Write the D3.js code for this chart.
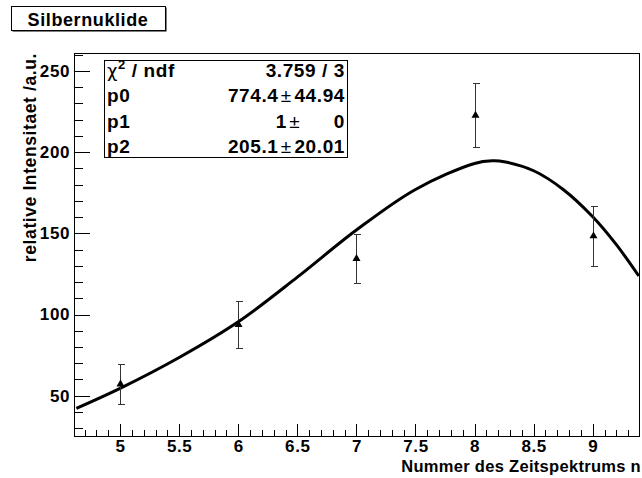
<!DOCTYPE html>
<html>
<head>
<meta charset="utf-8">
<script src="https://cdn.jsdelivr.net/npm/d3@7"></script>
<style>
  body { margin: 0; background: #fff; }
  svg { display: block; }
  text { font-family: "Liberation Sans", Arial, sans-serif; font-weight: bold; fill: #000; }
  .axis path.domain { display: none; }
  .axis line { stroke: #000; shape-rendering: crispEdges; }
  .axis text { font-size: 17px; letter-spacing: 0.6px; }
</style>
</head>
<body>
<svg id="chart"></svg>
<script>
// measured points (triangles with error bars)
var nValues = [5, 6, 7, 8, 9];
var intensity = [57.1, 93.8, 134.4, 222.6, 148.3];
var errors = [12.2, 14.6, 15.3, 19.7, 18.5];

// fit curve
var fitX = [4.63, 5, 5.5, 6, 6.5, 7, 7.5, 8, 8.15, 8.25, 8.5, 8.75, 9, 9.2, 9.39];
var fitY = [42.2, 54.5, 73.5, 95.5, 123, 152, 177, 193, 194.6, 194.1, 188.5, 177, 160.2, 143, 123.7];

var xMajor = [5, 5.5, 6, 6.5, 7, 7.5, 8, 8.5, 9];
var yMajor = [50, 100, 150, 200, 250];

var statNames = ["p0", "p1", "p2"];
var statVals = ["774.4", "1", "205.1"];
var statErrs = ["44.94", "0", "20.01"];
var chiText = "3.759 / 3";

var width = 642, height = 478;
var frame = {left: 74, top: 53, right: 640, bottom: 436};

var svg = d3.select("#chart").attr("width", width).attr("height", height);

var x = d3.scaleLinear().domain([4.61, 9.4]).range([frame.left, frame.right]);
var y = d3.scaleLinear().domain([25.2, 261]).range([frame.bottom, frame.top]);

// minor ticks
var xMinor = d3.range(47, 94).map(function(d) { return d / 10; })
    .filter(function(d) { return Math.abs(d * 2 - Math.round(d * 2)) > 1e-6; });
var yMinor = d3.range(30, 261, 10).filter(function(d) { return d % 50 != 0; });

// title box
svg.append("rect")
    .attr("x", 12.5).attr("y", 7.5).attr("width", 154).attr("height", 24)
    .attr("fill", "#000");
svg.append("rect")
    .attr("x", 11.5).attr("y", 6.5).attr("width", 154).attr("height", 24)
    .attr("fill", "#fff").attr("stroke", "#000");
svg.append("text")
    .attr("x", 88).attr("y", 26)
    .attr("text-anchor", "middle")
    .style("font-size", "18px").style("letter-spacing", "0.6px")
    .text("Silbernuklide");

// axes
svg.append("g").attr("class", "axis")
    .attr("transform", "translate(0," + frame.bottom + ")")
    .call(d3.axisBottom(x).tickValues(xMinor).tickSize(-6).tickFormat(""));
svg.append("g").attr("class", "axis")
    .attr("transform", "translate(0," + frame.bottom + ")")
    .call(d3.axisBottom(x).tickValues(xMajor).tickSize(-12).tickPadding(4)
        .tickFormat(d3.format("")));

svg.append("g").attr("class", "axis")
    .attr("transform", "translate(" + frame.left + ",0)")
    .call(d3.axisLeft(y).tickValues(yMinor).tickSize(-9).tickFormat(""));
svg.append("g").attr("class", "axis")
    .attr("transform", "translate(" + frame.left + ",0)")
    .call(d3.axisLeft(y).tickValues(yMajor).tickSize(-16).tickPadding(4));

// frame
svg.append("rect")
    .attr("x", frame.left + 0.5).attr("y", frame.top + 0.5)
    .attr("width", frame.right - frame.left - 1).attr("height", frame.bottom - frame.top)
    .attr("fill", "none").attr("stroke", "#000")
    .style("shape-rendering", "crispEdges");

// axis titles
svg.append("text")
    .attr("x", 641).attr("y", 471.5)
    .attr("text-anchor", "end")
    .style("font-size", "16.5px").style("letter-spacing", "0.3px")
    .text("Nummer des Zeitspektrums n");

svg.append("text")
    .attr("transform", "translate(36,53) rotate(-90)")
    .attr("text-anchor", "end")
    .style("font-size", "17.5px").style("letter-spacing", "0.6px")
    .text("relative Intensitaet /a.u.");

// fit curve
var line = d3.line()
    .x(function(d, i) { return x(fitX[i]); })
    .y(function(d) { return y(d); })
    .curve(d3.curveCatmullRom);

svg.append("path")
    .datum(fitY)
    .attr("fill", "none")
    .attr("stroke", "#000")
    .attr("stroke-width", 3)
    .attr("d", line);

// error bars + markers
var pts = svg.append("g");
nValues.forEach(function(n, i) {
    var cx = Math.round(x(n)) + 0.5;
    var lo = y(intensity[i] - errors[i]), hi = y(intensity[i] + errors[i]);
    pts.append("line")
        .attr("x1", cx).attr("x2", cx).attr("y1", lo).attr("y2", hi)
        .attr("stroke", "#333").style("shape-rendering", "crispEdges");
    [lo, hi].forEach(function(v) {
        pts.append("line")
            .attr("x1", cx - 3).attr("x2", cx + 4).attr("y1", Math.round(v) + 0.5).attr("y2", Math.round(v) + 0.5)
            .attr("stroke", "#333").style("shape-rendering", "crispEdges");
    });
    pts.append("path")
        .attr("d", d3.symbol().type(d3.symbolTriangle).size(28)())
        .attr("transform", "translate(" + cx + "," + y(intensity[i]) + ")")
        .attr("fill", "#000");
});

// stats box
svg.append("rect")
    .attr("x", 104.5).attr("y", 60.5).attr("width", 243).attr("height", 97)
    .attr("fill", "#fff").attr("stroke", "#000");

var st = svg.append("g").style("font-size", "19px").style("letter-spacing", "0.6px");
var chi = st.append("text").attr("x", 107).attr("y", 76.5);
chi.append("tspan").style("font-weight", "normal").style("font-family", "DejaVu Sans, sans-serif")
    .style("font-size", "18px").text("χ");
chi.append("tspan").attr("dy", -8).style("font-size", "13px").text("2");
chi.append("tspan").attr("dy", 8).text(" / ndf");
st.append("text").attr("x", 345).attr("y", 76.5).attr("text-anchor", "end").text(chiText);

statNames.forEach(function(name, i) {
    var by = 102 + i * 25.5;
    var pmx = statVals[i] == "1" ? 294.5 : 286;
    st.append("text").attr("x", 107).attr("y", by).text(name);
    st.append("text").attr("x", pmx - 7.5).attr("y", by).attr("text-anchor", "end").text(statVals[i]);
    st.append("text").attr("x", pmx).attr("y", by).attr("text-anchor", "middle")
        .style("font-weight", "normal").style("letter-spacing", "0px").text("±");
    st.append("text").attr("x", 345).attr("y", by).attr("text-anchor", "end").text(statErrs[i]);
});
</script>
</body>
</html>
